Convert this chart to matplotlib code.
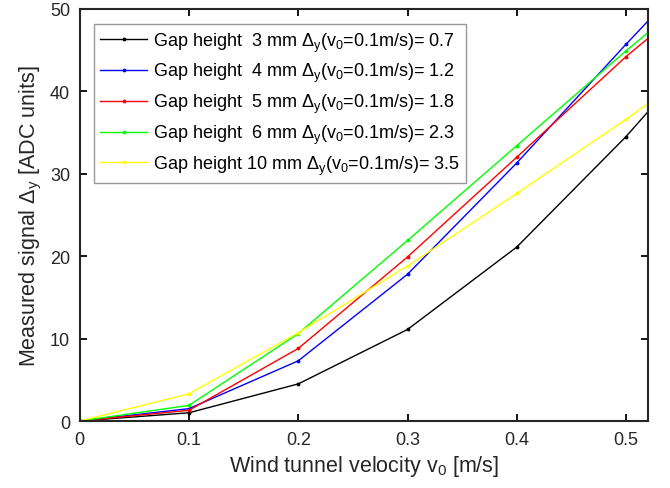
import matplotlib
matplotlib.use("Agg")
import matplotlib.pyplot as plt

plt.rcParams['font.family'] = ['Liberation Sans', 'DejaVu Sans']
plt.rcParams['mathtext.fontset'] = 'custom'
plt.rcParams['mathtext.rm'] = 'Liberation Sans'

# wind tunnel velocity [m/s]
v0 = [0, 0.1, 0.2, 0.3, 0.4, 0.5, 0.6]

# measured signal per gap height [ADC units]
gap_3mm = [0, 1.0, 4.5, 11.1, 21.1, 34.5, 49.5]
gap_4mm = [0, 1.5, 7.3, 17.8, 31.3, 45.7, 59.7]
gap_5mm = [0, 1.3, 8.8, 19.9, 32.0, 44.2, 55.2]
gap_6mm = [0, 1.9, 10.6, 21.9, 33.4, 44.9, 55.9]
gap_10mm = [0, 3.3, 10.7, 18.8, 27.6, 36.6, 46.1]

gaps = ["3", "4", "5", "6", "10"]
delta_at_01 = [0.7, 1.2, 1.8, 2.3, 3.5]
series = [gap_3mm, gap_4mm, gap_5mm, gap_6mm, gap_10mm]
colors = ["#000000", "#0000ff", "#ff0000", "#00ff00", "#ffff00"]

fig = plt.figure(figsize=(6.7, 4.89), dpi=100)
ax = fig.add_axes([0.119, 0.137, 0.848, 0.843])

for g, d, ys, c in zip(gaps, delta_at_01, series, colors):
    pad = " " if len(g) == 1 else ""
    label = (f"Gap height {pad}{g} mm Δ$_\\mathregular{{y}}$"
             f"(v$_\\mathregular{{0}}$=0.1m/s)= {d}")
    ax.plot(v0, ys, color=c, lw=1.0, marker=".", ms=3.5, label=label)

ax.set_xlim(0, 0.52)
ax.set_ylim(0, 50)
ax.set_xticks([0, 0.1, 0.2, 0.3, 0.4, 0.5])
ax.set_xticklabels(["0", "0.1", "0.2", "0.3", "0.4", "0.5"])
ax.set_yticks([0, 10, 20, 30, 40, 50])

ax.tick_params(direction="in", top=True, right=True, length=5, width=1.3,
               labelsize=13, labelcolor="#262626", pad=7)
for s in ax.spines.values():
    s.set_linewidth(1.5)
    s.set_color("#262626")

ax.set_xlabel("Wind tunnel velocity v$_\\mathregular{0}$ [m/s]", fontsize=15.5,
              color="#262626", labelpad=4)
ax.set_ylabel("Measured signal Δ$_\\mathregular{y}$ [ADC units]", fontsize=15.5,
              color="#262626", labelpad=4)

leg = ax.legend(loc="upper left", bbox_to_anchor=(0.025, 0.963), fontsize=13,
                frameon=True, fancybox=False, edgecolor="#7f7f7f",
                handlelength=2.6, handletextpad=0.3, borderpad=0.35,
                labelspacing=0.42, borderaxespad=0)
leg.get_frame().set_linewidth(1.0)

fig.savefig("out.png", dpi=100)
